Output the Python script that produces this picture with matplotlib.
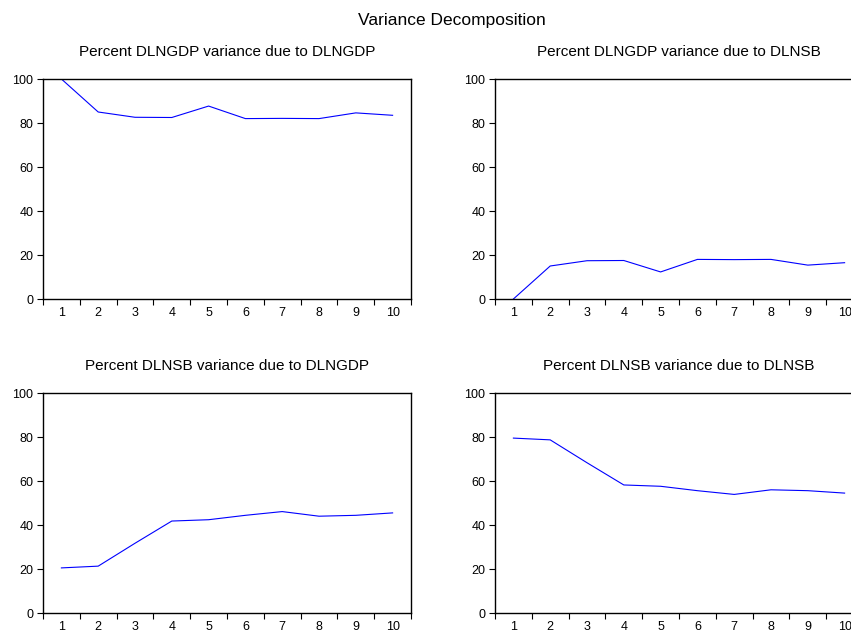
import matplotlib
matplotlib.use("Agg")
import matplotlib.pyplot as plt
import numpy as np

plt.rcParams['font.family'] = ['Liberation Sans', 'DejaVu Sans']

periods = [1, 2, 3, 4, 5, 6, 7, 8, 9, 10]
gdp_due_gdp = [100.0, 85.0, 82.6, 82.5, 87.7, 82.0, 82.1, 82.0, 84.6, 83.5]
gdp_due_nsb = [0.0, 15.0, 17.4, 17.5, 12.3, 18.0, 17.9, 18.0, 15.4, 16.5]
nsb_due_gdp = [20.5, 21.3, 31.7, 41.8, 42.4, 44.4, 46.1, 44.0, 44.4, 45.5]
nsb_due_nsb = [79.5, 78.7, 68.3, 58.2, 57.6, 55.6, 53.9, 56.0, 55.6, 54.5]

titles = ["Percent DLNGDP variance due to DLNGDP",
          "Percent DLNGDP variance due to DLNSB",
          "Percent DLNSB variance due to DLNGDP",
          "Percent DLNSB variance due to DLNSB"]
series = [gdp_due_gdp, gdp_due_nsb, nsb_due_gdp, nsb_due_nsb]
yticks = [0, 20, 40, 60, 80, 100]

W, H = 851, 633
fig = plt.figure(figsize=(W / 100, H / 100), dpi=100)

boxes = [(43, 79), (495, 79), (43, 393), (495, 393)]
aw, ah = 368, 220

for (x0, ytop), title, vals in zip(boxes, titles, series):
    ax = fig.add_axes([x0 / W, 1 - (ytop + ah) / H, aw / W, ah / H])
    ax.plot(periods, vals, color='#0000ff', lw=0.8)
    ax.set_xlim(0.5, 10.5)
    ax.set_ylim(0, 100)
    ax.set_yticks(yticks)
    ax.set_xticks(np.arange(0.5, 11.0, 1.0))
    ax.set_xticklabels([])
    ax.set_xticks(periods, minor=True)
    ax.set_xticklabels([str(p) for p in periods], minor=True)
    ax.tick_params(axis='x', which='major', direction='out', length=4.5, width=0.8,
                   top=False, labelsize=9)
    ax.tick_params(axis='x', which='minor', length=0, pad=5.5, labelsize=9)
    ax.tick_params(axis='y', direction='out', length=4, width=0.8, right=False,
                   labelsize=9, pad=3)
    for s in ax.spines.values():
        s.set_linewidth(1.0)
        s.set_color('black')
    ax.set_title(title, fontsize=11, pad=16.5)

fig.text(452 / W, 1 - 25 / H, "Variance Decomposition", ha='center', va='baseline',
         fontsize=12.5)

fig.savefig("out.png", dpi=100)
